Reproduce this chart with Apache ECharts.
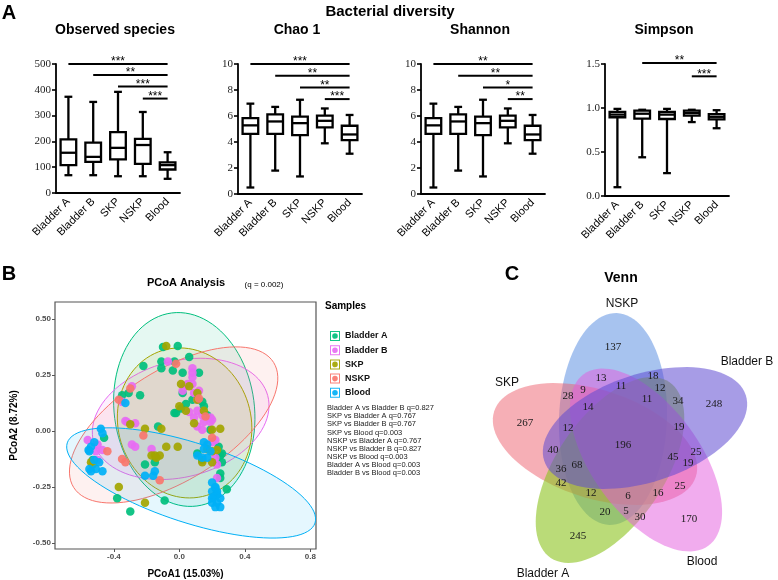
<!DOCTYPE html>
<html><head><meta charset="utf-8">
<script src="https://cdn.jsdelivr.net/npm/echarts@6/dist/echarts.min.js"></script>
<style>html,body{margin:0;padding:0;background:#fff}#c{width:778px;height:580px}</style>
</head><body><div id="c"></div>
<script>
// ---------- Panel A data ----------
const categories = ['Bladder A','Bladder B','SKP','NSKP','Blood'];
// [min, Q1, median, Q3, max]
const observedBox = [[69,108,156,208,373],[69,121,140,195,353],[65,130,175,236,392],[65,113,186,210,314],[55,91,108,119,158]];
const chaoBox = [[0.5,4.63,5.28,5.83,6.95],[1.8,4.63,5.58,6.13,6.7],[1.35,4.53,5.45,5.95,7.25],[3.9,5.13,5.63,6.03,6.58],[3.1,4.15,4.58,5.25,6.08]];
const shannonBox = [[0.5,4.63,5.28,5.83,6.95],[1.8,4.63,5.58,6.13,6.7],[1.35,4.53,5.45,5.95,7.25],[3.9,5.13,5.63,6.03,6.58],[3.1,4.15,4.58,5.25,6.08]];
const simpsonBox = [[0.1,0.895,0.925,0.955,0.99],[0.44,0.88,0.935,0.97,0.98],[0.26,0.875,0.925,0.955,0.99],[0.84,0.913,0.943,0.97,0.98],[0.77,0.87,0.9,0.93,0.975]];
// [from category, to category, level, label]
const observedSig = [[0,4,500,'***'],[1,4,457,'**'],[2,4,413,'***'],[3,4,366,'***']];
const chaoSig = [[0,4,10,'***'],[1,4,9.1,'**'],[2,4,8.2,'**'],[3,4,7.3,'***']];
const shannonSig = [[0,4,10,'**'],[1,4,9.1,'**'],[2,4,8.2,'*'],[3,4,7.3,'**']];
const simpsonSig = [[1,4,1.51,'**'],[3,4,1.36,'***']];
const panelTitles = ['Observed species','Chao 1','Shannon','Simpson'];

// ---------- Panel B data (PCoA) ----------
const groups = ['Bladder A','Bladder B','SKP','NSKP','Blood'];
const bladderA = [[-0.10,0.375],[-0.01,0.38],[-0.22,0.29],[-0.11,0.31],[-0.03,0.31],[-0.11,0.28],[-0.04,0.27],[0.02,0.26],[0.06,0.33],[0.12,0.26],[-0.31,0.17],[-0.24,0.16],[-0.35,0.16],[-0.02,0.08],[0.01,0.10],[0.02,0.17],[0.08,0.14],[0.14,0.13],[0.04,0.12],[-0.03,0.08],[0.15,0.11],[0.17,0.07],[0.19,0.005],[-0.13,0.02],[-0.46,-0.03],[0.24,-0.07],[0.26,-0.10],[0.25,-0.11],[0.11,-0.10],[0.14,-0.13],[0.26,-0.14],[-0.21,-0.15],[-0.15,-0.14],[0.25,-0.19],[0.25,-0.21],[0.29,-0.26],[-0.38,-0.30],[-0.30,-0.36],[-0.09,-0.31],[-0.53,-0.13]];
const bladderB = [[-0.07,0.31],[0.08,0.28],[0.08,0.26],[0.08,0.24],[-0.29,0.20],[0.02,0.18],[0.03,0.20],[0.08,0.21],[0.09,0.17],[0.12,0.18],[-0.35,0.13],[0.06,0.085],[0.11,0.09],[0.14,0.07],[0.09,0.06],[0.19,0.06],[0.20,0.05],[0.11,0.02],[0.14,0.005],[0.15,0.04],[0.19,0.04],[-0.33,0.045],[-0.32,0.04],[-0.27,0.035],[0.22,-0.04],[0.20,-0.05],[-0.56,-0.04],[-0.50,-0.06],[-0.51,-0.09],[-0.47,-0.085],[-0.50,-0.13],[-0.29,-0.06],[-0.27,-0.07],[-0.17,-0.08],[0.22,-0.12],[0.23,-0.15],[0.23,-0.21],[0.05,0.21],[0.11,0.14]];
const skp = [[-0.08,0.38],[0.01,0.21],[0.06,0.20],[0.11,0.17],[0.00,0.11],[0.04,0.09],[0.15,0.09],[0.09,0.035],[0.25,0.01],[0.20,0.005],[-0.30,0.03],[-0.21,0.01],[-0.11,0.01],[-0.08,-0.07],[-0.01,-0.07],[-0.15,-0.11],[-0.12,-0.11],[-0.17,-0.11],[-0.14,-0.12],[0.17,-0.08],[0.23,-0.085],[0.20,-0.09],[0.14,-0.14],[0.20,-0.14],[-0.54,-0.14],[-0.53,-0.15],[-0.37,-0.25],[-0.21,-0.32],[0.11,0.14]];
const nskp = [[-0.02,0.30],[-0.30,0.19],[-0.37,0.14],[-0.22,-0.02],[-0.44,-0.09],[-0.35,-0.125],[-0.33,-0.14],[-0.12,-0.22],[0.20,-0.03],[0.12,0.145],[0.16,0.065]];
const blood = [[-0.33,0.125],[-0.48,0.01],[-0.47,-0.01],[-0.52,-0.05],[-0.54,-0.07],[-0.555,-0.085],[-0.55,-0.09],[-0.52,-0.13],[-0.49,-0.14],[-0.55,-0.17],[-0.51,-0.17],[-0.47,-0.18],[-0.54,-0.18],[-0.21,-0.20],[-0.15,-0.18],[-0.16,-0.20],[0.17,-0.06],[0.15,-0.05],[0.15,-0.08],[0.19,-0.09],[0.17,-0.12],[0.11,-0.11],[0.14,-0.12],[0.20,-0.23],[0.22,-0.25],[0.22,-0.255],[0.23,-0.27],[0.20,-0.27],[0.23,-0.28],[0.22,-0.29],[0.21,-0.295],[0.25,-0.30],[0.20,-0.30],[0.20,-0.32],[0.23,-0.32],[0.25,-0.34],[0.22,-0.34]];
// confidence ellipses: centre (x,y) and two conjugate semi-axis vectors
const pcoaEllipses = [[0.03,0.096,0.077,-0.431,0.425,0.040],[0.008,0.054,0.532,0.104,0.092,-0.25],[0.032,0.036,0.03,-0.335,0.41,0.0],[-0.035,0.027,0.611,0.279,0.179,-0.209],[0.072,-0.232,0.757,-0.179,-0.075,-0.169]];
const pcoaXTicks = [-0.4,0,0.4,0.8];
const pcoaYTicks = [-0.5,-0.25,0,0.25,0.5];
const statLines = ['Bladder A vs Bladder B q=0.827','SKP vs Bladder A q=0.767','SKP vs Bladder B q=0.767','SKP vs Blood q=0.003','NSKP vs Bladder A q=0.767','NSKP vs Bladder B q=0.827','NSKP vs Blood q=0.003','Bladder A vs Blood q=0.003','Bladder B vs Blood q=0.003'];

// ---------- Panel C data (Venn) ----------
const vennSets = ['NSKP','SKP','Bladder A','Blood','Bladder B'];
const vennCounts = [137,18,13,11,12,9,28,11,34,248,14,267,12,19,196,40,25,45,19,36,68,42,25,12,6,16,20,5,30,170,245];

// ---------- layout / style (not data) ----------
const groupColors = ['#00BF7D','#E76BF3','#A3A500','#F8766D','#00B0F6'];
const pcoaSeriesData = [bladderA,bladderB,skp,nskp,blood];
const vennShapes = [[-9,25,106,54,88],[-27,0,106,54,-18],[-12,-26,106,54,56],[24,-16,106,54,-54],[23,16,106,54,18]];
const vennFill = ['rgba(95,145,225,0.55)','rgba(238,95,110,0.5)','rgba(140,195,30,0.6)','rgba(228,90,222,0.5)','rgba(95,75,210,0.55)'];
const vennCountXY = [[-9,97],[31,68],[-21,66],[-1,58],[38,56],[-39,54],[-54,48],[25,45],[56,43],[92,40],[-34,37],[-97,21],[-54,16],[57,17],[1,-1],[-69,-6],[74,-8],[51,-13],[66,-19],[-61,-25],[-45,-21],[-61,-39],[58,-42],[-31,-49],[6,-52],[36,-49],[-17,-68],[4,-67],[18,-73],[67,-75],[-44,-92]];
const vennNameXY = [[0,140],[-115,61],[-79,-130],[80,-118],[125,82]];

const boxes = [observedBox,chaoBox,shannonBox,simpsonBox];
const sigs = [observedSig,chaoSig,shannonSig,simpsonSig];
const yCfg = [{min:0,max:500,interval:100,fmt:v=>String(v)},{min:0,max:10,interval:2,fmt:v=>String(v)},{min:0,max:10,interval:2,fmt:v=>String(v)},{min:0,max:1.5,interval:0.5,fmt:v=>v.toFixed(1)}];
const gridA = [{left:56,top:64,width:124,height:129},{left:238,top:64,width:124,height:130},{left:421,top:64,width:124,height:130},{left:605,top:64,width:124,height:132}];

const chart = echarts.init(document.getElementById('c'), null, {renderer:'canvas'});

function boxRender(params, api){
  const i = api.value(0);
  const pMin = api.coord([i, api.value(1)]), pQ1 = api.coord([i, api.value(2)]), pMed = api.coord([i, api.value(3)]), pQ3 = api.coord([i, api.value(4)]), pMax = api.coord([i, api.value(5)]);
  const bw = api.size([1,0])[0]*0.63, cw = bw*0.5, cx = pMed[0];
  const ls = {stroke:'#000', lineWidth:2.3, fill:null};
  return {type:'group', children:[
    {type:'line', shape:{x1:cx,y1:pQ3[1],x2:cx,y2:pMax[1]}, style:ls},
    {type:'line', shape:{x1:cx,y1:pQ1[1],x2:cx,y2:pMin[1]}, style:ls},
    {type:'line', shape:{x1:cx-cw/2,y1:pMax[1],x2:cx+cw/2,y2:pMax[1]}, style:ls},
    {type:'line', shape:{x1:cx-cw/2,y1:pMin[1],x2:cx+cw/2,y2:pMin[1]}, style:ls},
    {type:'rect', shape:{x:cx-bw/2,y:pQ3[1],width:bw,height:pQ1[1]-pQ3[1]}, style:{stroke:'#000',lineWidth:2.3,fill:'#fff'}},
    {type:'line', shape:{x1:cx-bw/2,y1:pMed[1],x2:cx+bw/2,y2:pMed[1]}, style:ls}
  ]};
}
function sigRender(list){
  return function(params, api){
    const d = list[params.dataIndex];
    const p1 = api.coord([d[0], d[2]]), p2 = api.coord([d[1], d[2]]);
    return {type:'group', children:[
      {type:'line', shape:{x1:p1[0],y1:p1[1],x2:p2[0],y2:p2[1]}, style:{stroke:'#000',lineWidth:2}},
      {type:'text', x:(p1[0]+p2[0])/2, y:p1[1]+4, style:{text:d[3], fill:'#000', font:'12px "Liberation Sans", Arial', align:'center', verticalAlign:'bottom', textAlign:'center', textVerticalAlign:'bottom'}}
    ]};
  };
}
function ellipsePts(api, e){
  const pts = [];
  for (let k=0;k<96;k++){
    const t = k/96*Math.PI*2;
    pts.push(api.coord([e[0]+e[2]*Math.cos(t)+e[4]*Math.sin(t), e[1]+e[3]*Math.cos(t)+e[5]*Math.sin(t)]));
  }
  return pts;
}
function hexA(h,a){const n=parseInt(h.slice(1),16);return 'rgba('+(n>>16)+','+((n>>8)&255)+','+(n&255)+','+a+')';}

const grid=[], xAxis=[], yAxis=[], series=[];
for (let p=0;p<4;p++){
  grid.push(gridA[p]);
  xAxis.push({type:'category', gridIndex:p, data:categories, boundaryGap:true,
    axisLine:{lineStyle:{color:'#000',width:1.8}}, axisTick:{alignWithLabel:true,length:4,lineStyle:{color:'#000',width:1.6}},
    axisLabel:{rotate:45, interval:0, fontSize:11, color:'#000', margin:7, fontFamily:'"Liberation Sans", Arial'}, splitLine:{show:false}});
  yAxis.push({type:'value', gridIndex:p, min:yCfg[p].min, max:yCfg[p].max, interval:yCfg[p].interval,
    axisLine:{show:true,lineStyle:{color:'#000',width:1.8}}, axisTick:{show:true,length:4,lineStyle:{color:'#000',width:1.6}},
    axisLabel:{fontSize:11, color:'#222', fontFamily:'"Liberation Serif", serif', margin:5, formatter:yCfg[p].fmt}, splitLine:{show:false}});
  series.push({type:'custom', xAxisIndex:p, yAxisIndex:p, renderItem:boxRender, encode:{x:0,y:[1,2,3,4,5]},
    data: boxes[p].map((b,i)=>[i].concat(b)), clip:false, z:3});
  series.push({type:'custom', xAxisIndex:p, yAxisIndex:p, renderItem:sigRender(sigs[p]), encode:{x:[0,1],y:2},
    data: sigs[p].map(s=>[s[0],s[1],s[2]]), clip:false, z:4});
}
// PCoA grid
grid.push({left:55, top:302, width:261, height:247, show:true, borderColor:'#555', borderWidth:1.2, backgroundColor:'#fff'});
xAxis.push({type:'value', gridIndex:4, min:-0.76, max:0.835, name:'PCoA1 (15.03%)', nameLocation:'middle', nameGap:20,
  nameTextStyle:{fontSize:10, fontWeight:'bold', color:'#000', fontFamily:'"Liberation Sans", Arial'},
  axisLine:{show:false, onZero:false}, axisTick:{show:true, length:3, customValues:pcoaXTicks, lineStyle:{color:'#555'}},
  axisLabel:{customValues:pcoaXTicks, formatter:v=>v.toFixed(1), fontSize:8, fontWeight:'bold', color:'#4d4d4d', margin:4, fontFamily:'"Liberation Sans", Arial'}, splitLine:{show:false}});
yAxis.push({type:'value', gridIndex:4, min:-0.527, max:0.576, name:'PCoA2 (8.72%)', nameLocation:'middle', nameGap:36,
  nameTextStyle:{fontSize:10, fontWeight:'bold', color:'#000', fontFamily:'"Liberation Sans", Arial'},
  axisLine:{show:false, onZero:false}, axisTick:{show:true, length:3, customValues:pcoaYTicks, lineStyle:{color:'#555'}},
  axisLabel:{customValues:pcoaYTicks, formatter:v=>v.toFixed(2), fontSize:8, fontWeight:'bold', color:'#4d4d4d', margin:4, fontFamily:'"Liberation Sans", Arial'}, splitLine:{show:false}});
series.push({type:'custom', xAxisIndex:4, yAxisIndex:4, clip:true, z:1, encode:{x:0,y:1},
  data: pcoaEllipses,
  renderItem:(params, api)=>{
    const e = pcoaEllipses[params.dataIndex];
    return {type:'polygon', shape:{points:ellipsePts(api,e)}, style:{fill:hexA(groupColors[params.dataIndex],0.1), stroke:groupColors[params.dataIndex], lineWidth:1}};
  }});
groups.forEach((g,i)=>{
  series.push({type:'scatter', name:g, xAxisIndex:4, yAxisIndex:4, data:pcoaSeriesData[i], symbolSize:8.5,
    itemStyle:{color:groupColors[i], opacity:0.92}, z:2});
});
// Venn grid
grid.push({left:490, top:290, width:288, height:290});
xAxis.push({type:'value', gridIndex:5, min:-132, max:156, show:false});
yAxis.push({type:'value', gridIndex:5, min:-136, max:154, show:false});
series.push({type:'custom', xAxisIndex:5, yAxisIndex:5, clip:false, z:1, encode:{x:0,y:1},
  data: vennShapes.map(v=>[v[0],v[1]]),
  renderItem:(params, api)=>{
    const v = vennShapes[params.dataIndex];
    const th = v[4]*Math.PI/180;
    const e = [v[0],v[1], v[2]*Math.cos(th), v[2]*Math.sin(th), -v[3]*Math.sin(th), v[3]*Math.cos(th)];
    return {type:'polygon', shape:{points:ellipsePts(api,e)}, style:{fill:vennFill[params.dataIndex], stroke:null}};
  }});
series.push({type:'custom', xAxisIndex:5, yAxisIndex:5, clip:false, z:3, encode:{x:0,y:1},
  data: vennCountXY,
  renderItem:(params, api)=>{
    const p = api.coord(vennCountXY[params.dataIndex]);
    return {type:'text', x:p[0], y:p[1], style:{text:String(vennCounts[params.dataIndex]), fill:'#1a1a1a', font:'11px "Liberation Serif", serif', align:'center', verticalAlign:'middle', textAlign:'center', textVerticalAlign:'middle'}};
  }});
series.push({type:'custom', xAxisIndex:5, yAxisIndex:5, clip:false, z:3, encode:{x:0,y:1},
  data: vennNameXY,
  renderItem:(params, api)=>{
    const p = api.coord(vennNameXY[params.dataIndex]);
    return {type:'text', x:p[0], y:p[1], style:{text:vennSets[params.dataIndex], fill:'#111', font:'12px "Liberation Sans", Arial', align:'center', verticalAlign:'middle', textAlign:'center', textVerticalAlign:'middle'}};
  }});

function txt(t,x,y,font,opts){
  return {type:'text', x:x, y:y, style:Object.assign({text:t, font:font, fill:'#000', align:'center', verticalAlign:'middle', textAlign:'center', textVerticalAlign:'middle'}, opts||{})};
}
const graphic = [
  txt('A',9,13,'bold 20px "Liberation Sans", Arial'),
  txt('Bacterial diversity',390,12,'bold 15px "Liberation Sans", Arial'),
  txt('B',9,274,'bold 20px "Liberation Sans", Arial'),
  txt('C',512,274,'bold 20px "Liberation Sans", Arial'),
  txt('PCoA Analysis',186,283,'bold 11px "Liberation Sans", Arial'),
  txt('(q = 0.002)',264,285,'8px "Liberation Sans", Arial'),
  txt('Samples',325,306,'bold 10px "Liberation Sans", Arial',{align:'left',textAlign:'left'}),
  txt('Venn',621,278,'bold 14px "Liberation Sans", Arial'),
  {type:'text', x:327, y:404, style:{text:statLines.join('\n'), font:'7.5px "Liberation Sans", Arial', lineHeight:8.15, fill:'#222', align:'left', verticalAlign:'top', textAlign:'left', textVerticalAlign:'top'}}
];
panelTitles.forEach((t,p)=>{
  const g = gridA[p];
  graphic.push(txt(t, g.left+g.width/2-3, 30, 'bold 14px "Liberation Sans", Arial'));
});

chart.setOption({
  animation:false,
  backgroundColor:'#fff',
  grid:grid, xAxis:xAxis, yAxis:yAxis, series:series, graphic:graphic,
  legend:{data:groups, orient:'vertical', left:325, top:326, itemWidth:10, itemHeight:10, itemGap:4.2,
    icon:'path://M0,0H10V10H0Z M1,1V9H9V1Z M5,2.2A2.8,2.8 0 1 1 4.99,2.2Z',
    textStyle:{fontSize:9, fontWeight:'bold', color:'#111', fontFamily:'"Liberation Sans", Arial'}, selectedMode:false}
});
</script></body></html>
